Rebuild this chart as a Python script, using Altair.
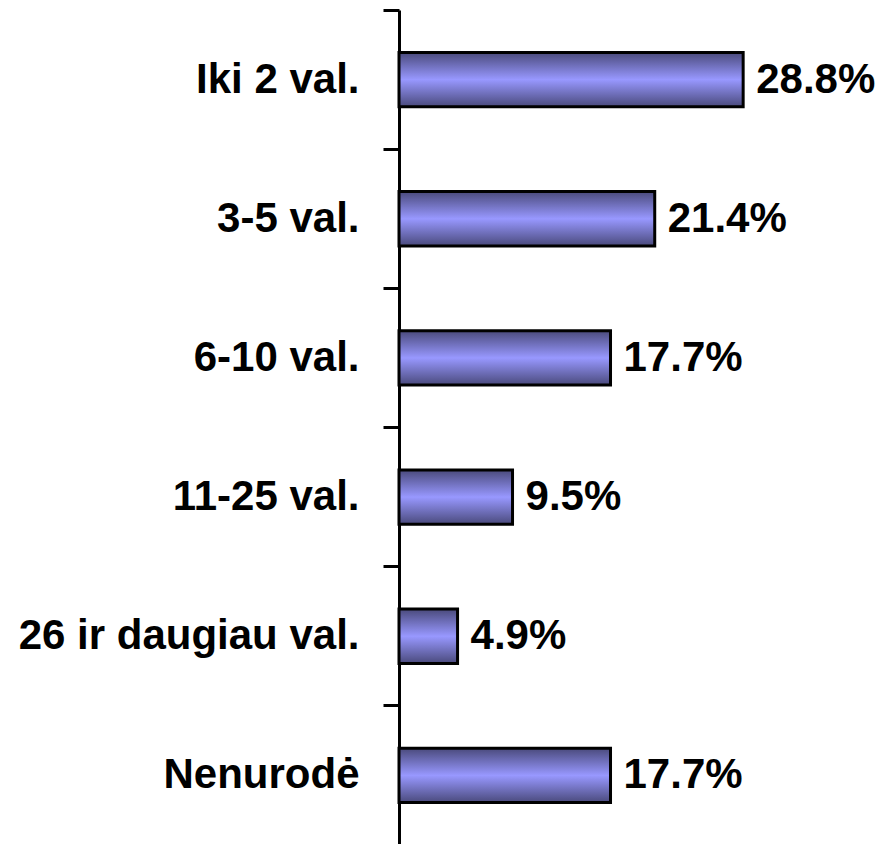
import altair as alt
import pandas as pd

categories = ["Iki 2 val.", "3-5 val.", "6-10 val.", "11-25 val.", "26 ir daugiau val.", "Nenurodė"]
values = [28.8, 21.4, 17.7, 9.5, 4.9, 17.7]

df = pd.DataFrame({"cat": categories, "val": values})

FONT = "Liberation Sans"

y_enc = alt.Y("cat:N", sort=categories,
              scale=alt.Scale(paddingInner=0, paddingOuter=0),
              axis=alt.Axis(title=None, labelFont=FONT, labelFontSize=42, labelFontWeight="bold",
                            labelColor="black", labelPadding=24, tickSize=16, tickWidth=3,
                            tickColor="black", domainColor="black", domainWidth=3,
                            bandPosition=0, labelLimit=600, grid=False))
x_enc = alt.X("val:Q", scale=alt.Scale(domain=[0, 40], nice=False), axis=None)

grad = alt.Gradient(
    gradient="linear", x1=0, y1=0, x2=0, y2=1,
    stops=[alt.GradientStop(color="#4a4a7c", offset=0),
           alt.GradientStop(color="#9898ff", offset=0.5),
           alt.GradientStop(color="#4a4a7c", offset=1)])

bars = alt.Chart(df).mark_bar(
    height=alt.RelativeBandSize(band=0.39), fill=grad, stroke="black", strokeWidth=3
).encode(x=x_enc, y=y_enc)

labels = alt.Chart(df).transform_calculate(
    lbl="format(datum.val, '.1f') + '%'"
).mark_text(align="left", baseline="middle", dx=13, font=FONT, fontSize=42,
            fontWeight="bold", color="black").encode(x=x_enc, y=y_enc, text="lbl:N")

chart = (bars + labels).properties(
    width=478, height=835,
    autosize=alt.AutoSizeParams(type="none"),
    padding={"left": 391, "top": 2, "right": 0, "bottom": 0},
).configure_view(stroke=None)

chart.save("out.html", embed_options={"renderer": "svg", "actions": False})
